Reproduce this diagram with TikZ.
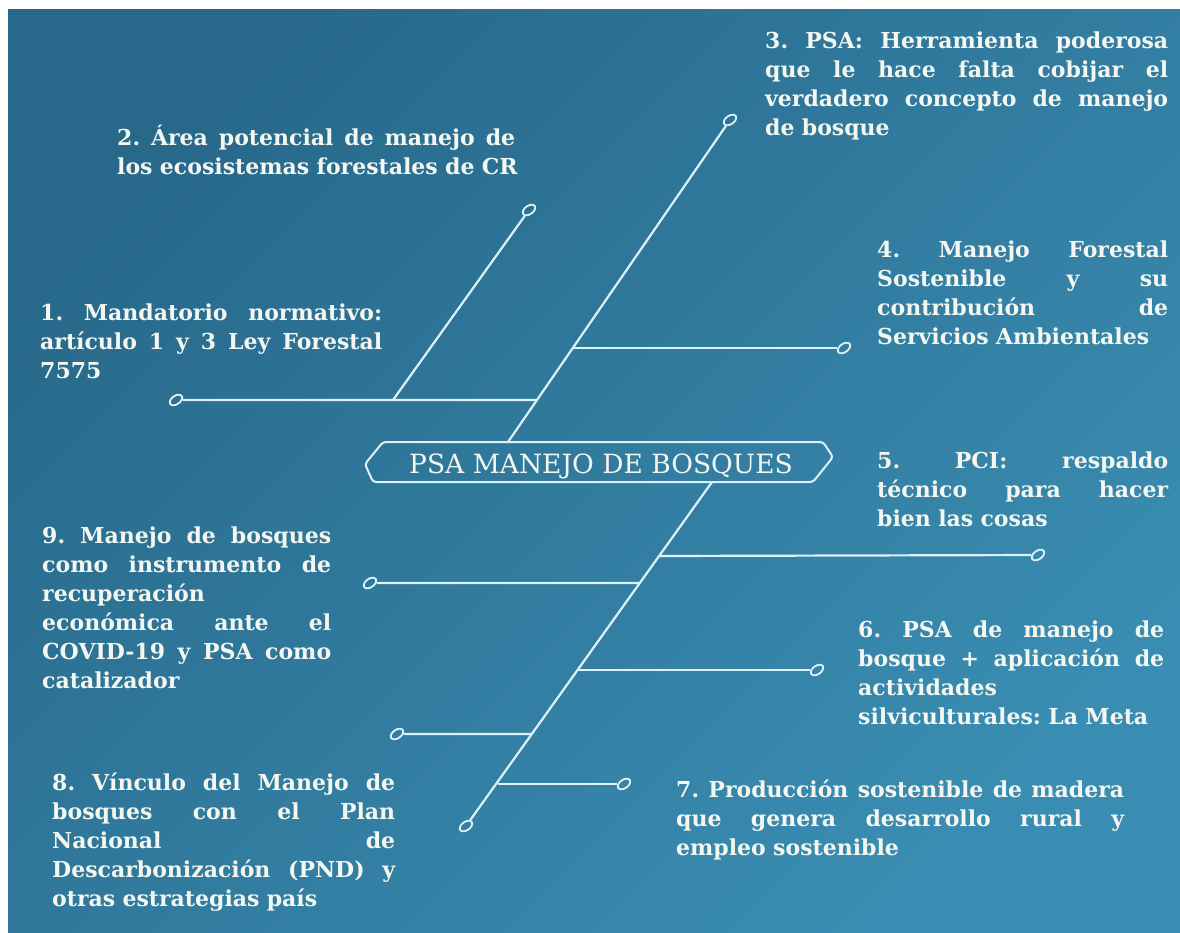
\documentclass[tikz,border=0pt]{standalone}
\usepackage{fontspec}
\setmainfont{DejaVu Serif}
\usetikzlibrary{shapes.geometric,calc}
\definecolor{bgA}{HTML}{28698B}
\definecolor{bgB}{HTML}{3A8DB2}
\definecolor{lnc}{HTML}{DDF2F8}
\definecolor{txc}{HTML}{F4F6F0}
\newcommand{\jl}[2]{\leavevmode\hbox to #1{\spaceskip=.33em plus 1fil minus .15em\relax #2}}
\newcommand{\nl}[1]{\leavevmode\hbox{#1}}
\tikzset{
  lbl/.style={anchor=north west, inner sep=0pt, text=txc, align=left,
    font=\bfseries\fontsize{22}{29}\selectfont\frenchspacing},
  endc/.style={ellipse, draw=lnc, line width=1.8pt, minimum width=14pt,
    minimum height=8.5pt, inner sep=0pt, rotate=35},
  bone/.style={draw=lnc, line width=2.2pt},
  ttl/.style={anchor=base, inner sep=0pt, text=txc,
    font=\fontsize{26.5}{30}\selectfont},
  hexa/.style={draw=lnc, line width=2pt, rounded corners=3pt}
}
\begin{document}
\begin{tikzpicture}[x=1pt,y=-1pt]
\useasboundingbox (0,0) rectangle (1180,932);
\fill[white] (0,0) rectangle (1180,932);
\shade[top color=bgA,bottom color=bgB,shading angle=45] (8,9) rectangle (1180,932);

% title
\draw[hexa] (383,442) -- (823,442) -- (833,457) -- (813,482) -- (373,482) -- (365,464) -- cycle;
\node[ttl] (title) at (601,473) {PSA MANEJO DE BOSQUES};

% end circles
\node[endc] (c1) at (176,400) {};
\node[endc] (c2) at (529,210) {};
\node[endc] (c3) at (730,120) {};
\node[endc] (c4) at (844,348) {};
\node[endc] (c5) at (1038,555) {};
\node[endc] (c9) at (370,583) {};
\node[endc] (c6) at (817,670) {};
\node[endc] (c8) at (397,734) {};
\node[endc] (c7) at (624,784) {};
\node[endc] (c10) at (466,826) {};

% spine anchor points
\coordinate (u0) at (508,442);
\coordinate (l0) at (712,482);
\coordinate (j1) at (536,400);
\coordinate (k1) at (393,400);
\coordinate (j4) at (573,348);
\coordinate (j5) at (659,556);
\coordinate (j9) at (640,583);
\coordinate (j6) at (578,670);
\coordinate (j8) at (532,734);
\coordinate (j7) at (498,784);

% bones
\draw[bone] (u0) -- (c3);
\draw[bone] (l0) -- (c10);
\draw[bone] (j1) -- (c1);
\draw[bone] (k1) -- (c2);
\draw[bone] (j4) -- (c4);
\draw[bone] (j5) -- (c5);
\draw[bone] (j9) -- (c9);
\draw[bone] (j6) -- (c6);
\draw[bone] (j8) -- (c8);
\draw[bone] (j7) -- (c7);

% labels
\node[lbl, text width=342pt] (t1) at (40,299.7) {\strut\jl{342pt}{1. Mandatorio normativo:}\\
\jl{342pt}{artículo 1 y 3 Ley Forestal}\\
\nl{7575}};
\node[lbl, text width=420pt] (t2) at (117,124.7) {\strut\jl{398pt}{2. Área potencial de manejo de}\\
\nl{los ecosistemas forestales de CR}};
\node[lbl, text width=403pt] (t3) at (765,27.7) {\strut\jl{403pt}{3. PSA: Herramienta poderosa}\\
\jl{403pt}{que le hace falta cobijar el}\\
\jl{403pt}{verdadero concepto de manejo}\\
\nl{de bosque}};
\node[lbl, text width=291pt] (t4) at (877,236.7) {\strut\jl{291pt}{4. Manejo Forestal}\\
\jl{291pt}{Sostenible y su}\\
\jl{291pt}{contribución de}\\
\nl{Servicios Ambientales}};
\node[lbl, text width=291pt] (t5) at (877,447.7) {\strut\jl{291pt}{5. PCI: respaldo}\\
\jl{291pt}{técnico para hacer}\\
\nl{bien las cosas}};
\node[lbl, text width=306pt] (t6) at (858,616.7) {\strut\jl{306pt}{6. PSA de manejo de}\\
\jl{306pt}{bosque + aplicación de}\\
\nl{actividades}\\
\nl{silviculturales: La Meta}};
\node[lbl, text width=448pt] (t7) at (676,776.7) {\strut\jl{448pt}{7. Producción sostenible de madera}\\
\jl{448pt}{que genera desarrollo rural y}\\
\nl{empleo sostenible}};
\node[lbl, text width=343pt] (t8) at (52,769.7) {\strut\jl{343pt}{8. Vínculo del Manejo de}\\
\jl{343pt}{bosques con el Plan}\\
\jl{343pt}{Nacional de}\\
\jl{343pt}{Descarbonización (PND) y}\\
\nl{otras estrategias país}};
\node[lbl, text width=289pt] (t9) at (42,522.7) {\strut\jl{289pt}{9. Manejo de bosques}\\
\jl{289pt}{como instrumento de}\\
\nl{recuperación}\\
\jl{289pt}{económica ante el}\\
\jl{289pt}{COVID-19 y PSA como}\\
\nl{catalizador}};
\end{tikzpicture}
\end{document}
